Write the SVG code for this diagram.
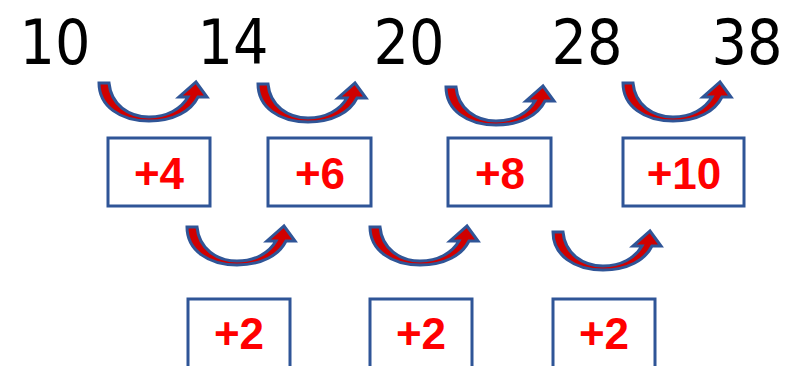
<svg xmlns="http://www.w3.org/2000/svg" width="787" height="366" viewBox="0 0 787 366">
  <style>
    .num { font-family: "DejaVu Sans Condensed", "Liberation Sans", sans-serif; font-size: 62px; fill: #000; text-anchor: middle; }
    .box { fill: #fff; stroke: #2F5597; stroke-width: 3; }
    .lbl { font-family: "Liberation Sans", Arial, sans-serif; font-weight: bold; font-size: 44px; fill: #FF0000; text-anchor: middle; }
    .arc { fill: #D00000; stroke: #2F5597; stroke-width: 3; stroke-linejoin: miter; }
  </style>
  <defs>
    <!-- curved "up" arrow: crescent band, thick at the tail, ending in an arrowhead on the right -->
    <path id="curved-arrow" class="arc" d="M11,0 L1,0 C1,23 22,38 51,38 C76,38 93,28 100,14 L109,14 L98,-1 L81,14 L90,14 C83,26 69,34 51,34 C31,34 13,22 11,0 Z"/>
  </defs>

  <!-- sequence numbers -->
  <g id="n10"><text class="num" x="55" y="64">10</text></g>
  <g id="n14"><text class="num" x="233" y="64">14</text></g>
  <g id="n20"><text class="num" x="409" y="64">20</text></g>
  <g id="n28"><text class="num" x="587" y="64">28</text></g>
  <g id="n38"><text class="num" x="747" y="64">38</text></g>

  <!-- first differences -->
  <g id="d4"><rect class="box" x="108" y="138" width="102" height="68"/><text class="lbl" x="159" y="189">+4</text></g>
  <g id="d6"><rect class="box" x="268" y="138" width="103" height="68"/><text class="lbl" x="320" y="189">+6</text></g>
  <g id="d8"><rect class="box" x="448" y="138" width="103" height="68"/><text class="lbl" x="500" y="189">+8</text></g>
  <g id="d10"><rect class="box" x="623" y="138" width="121" height="68"/><text class="lbl" x="684" y="189">+10</text></g>

  <!-- second differences -->
  <g id="s1"><rect class="box" x="188" y="299" width="102" height="80"/><text class="lbl" x="239" y="349">+2</text></g>
  <g id="s2"><rect class="box" x="370" y="299" width="102" height="80"/><text class="lbl" x="421" y="349">+2</text></g>
  <g id="s3"><rect class="box" x="553" y="299" width="102" height="80"/><text class="lbl" x="604" y="349">+2</text></g>

  <!-- connectors -->
  <g id="connectors">
    <use href="#curved-arrow" transform="translate(98,83)"/>
    <use href="#curved-arrow" transform="translate(257,84)"/>
    <use href="#curved-arrow" transform="translate(445,87)"/>
    <use href="#curved-arrow" transform="translate(622,83)"/>
    <use href="#curved-arrow" transform="translate(186,227)"/>
    <use href="#curved-arrow" transform="translate(369,227)"/>
    <use href="#curved-arrow" transform="translate(552,232)"/>
  </g>
</svg>
